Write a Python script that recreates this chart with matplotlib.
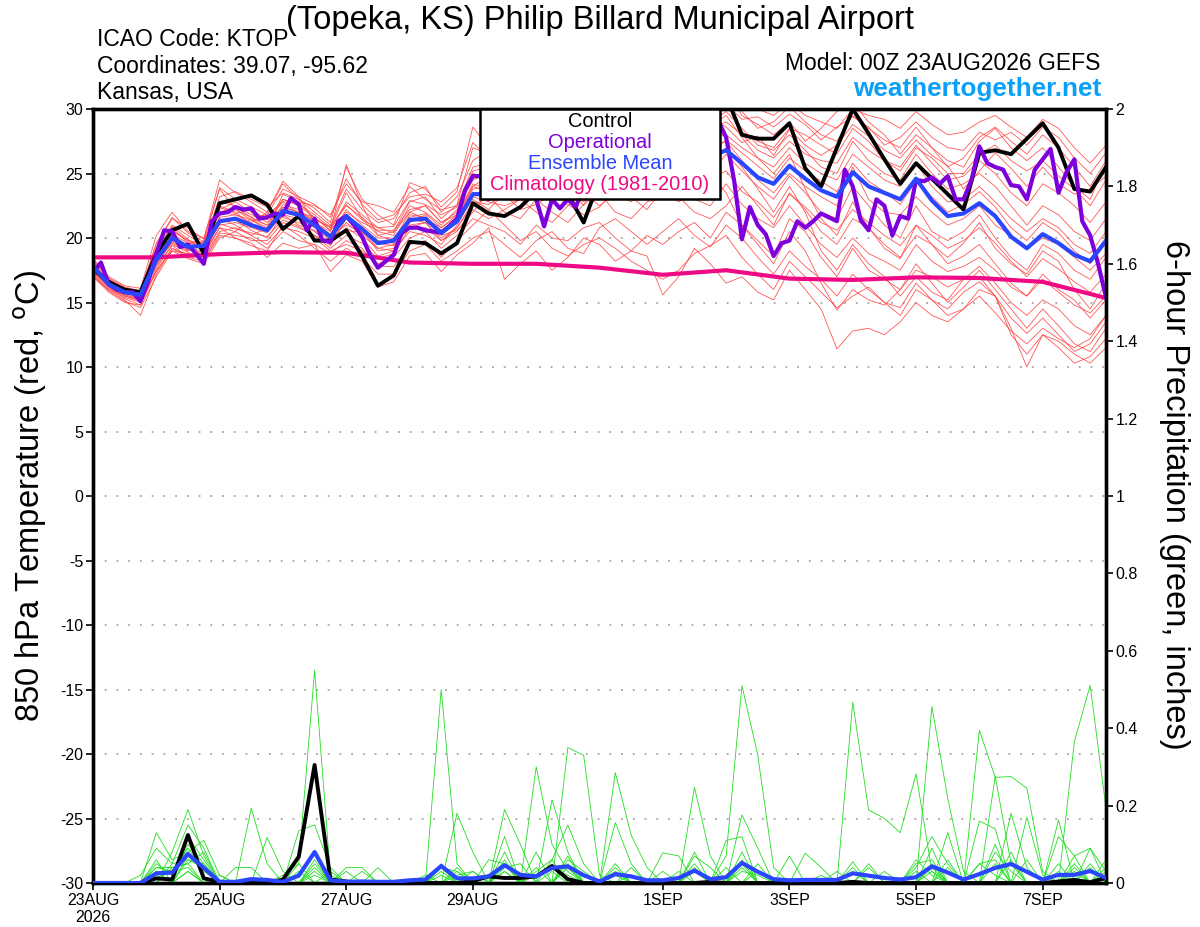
import numpy as np
import matplotlib
matplotlib.use("Agg")
import matplotlib.pyplot as plt
from matplotlib.patches import Rectangle
from matplotlib.ticker import FuncFormatter
from datetime import datetime, timedelta

plt.rcParams['font.family'] = ['Liberation Sans', 'DejaVu Sans']
plt.rcParams['axes.unicode_minus'] = False

# forecast hours from 00Z 23AUG2026
ens_hours = np.arange(0, 385, 6)
oper_hours = np.arange(0, 385, 3)
clim_hours = np.arange(0, 385, 24)
run_start = datetime(2026, 8, 23, 0)
tick_dates = [datetime(2026, 8, 23), datetime(2026, 8, 25), datetime(2026, 8, 27),
              datetime(2026, 8, 29), datetime(2026, 9, 1), datetime(2026, 9, 3),
              datetime(2026, 9, 5), datetime(2026, 9, 7)]

# 850 hPa temperature (C)
control_t = [17.6, 16.6, 16.0, 15.8, 18.8, 20.6, 21.1, 18.8, 22.7, 23.0, 23.3, 22.6,
             20.7, 21.7, 19.8, 19.8, 20.6, 18.6, 16.3, 17.1, 19.7, 19.6, 18.8, 19.6,
             22.7, 21.9, 21.7, 22.4, 23.6, 24.2, 23.4, 21.2, 24.5, 25.5, 26.0, 25.6,
             26.5, 27.2, 28.0, 29.2, 31.0, 28.0, 27.7, 27.7, 28.9, 25.4, 24.0, 27.0,
             30.0, 28.1, 26.1, 24.2, 25.8, 24.6, 23.4, 22.2, 26.6, 26.8, 26.5, 27.7,
             28.9, 27.0, 23.8, 23.6, 25.5]

mean_t = [17.8, 16.4, 15.8, 15.6, 18.3, 20.0, 19.3, 19.4, 21.3, 21.5, 21.0, 20.6,
          22.1, 21.8, 21.0, 20.1, 21.7, 20.7, 19.6, 19.8, 21.4, 21.5, 20.4, 21.3,
          23.4, 23.4, 23.8, 24.0, 24.3, 24.6, 24.4, 24.2, 24.8, 25.0, 25.2, 25.0,
          25.4, 25.8, 26.0, 26.3, 26.8, 25.8, 24.7, 24.2, 25.6, 24.6, 23.7, 23.2,
          25.1, 24.0, 23.5, 23.0, 24.6, 22.9, 21.7, 21.9, 22.7, 21.7, 20.1, 19.2,
          20.3, 19.6, 18.7, 18.2, 19.8]

oper_t = [17.3, 18.1, 16.4, 16.0, 15.8, 15.8, 15.1, 16.7,
          18.8, 20.6, 20.5, 19.3, 19.5, 18.8, 18.0, 21.3,
          21.9, 22.0, 22.4, 22.2, 22.3, 21.5, 21.6, 21.9,
          21.8, 23.1, 22.6, 20.6, 21.5, 19.8, 19.7, 21.3,
          21.7, 21.0, 20.1, 18.7, 17.7, 18.2, 18.7, 20.4,
          20.8, 20.8, 20.6, 20.5, 20.4, 20.9, 21.5, 23.7,
          24.8, 24.8, 23.0, 24.0, 24.8, 24.5, 24.2, 23.8,
          23.0, 20.9, 23.0, 22.3, 23.0, 22.4, 24.0, 25.0,
          25.5, 25.2, 25.8, 26.0, 25.5, 26.2, 26.0, 26.5,
          26.8, 26.3, 27.0, 27.5, 28.0, 28.6, 29.2, 29.1,
          27.8, 24.5, 19.9, 22.4, 21.0, 20.3, 18.6, 19.6,
          19.8, 21.3, 20.8, 21.3, 21.9, 21.6, 21.3, 25.3,
          24.0, 21.4, 20.6, 23.0, 22.5, 20.2, 21.7, 21.5,
          24.5, 24.4, 24.7, 24.2, 24.8, 23.0, 23.0, 24.5,
          27.1, 25.8, 25.5, 25.3, 24.1, 24.0, 23.0, 25.3,
          26.1, 26.9, 23.5, 25.1, 26.1, 21.3, 20.2, 18.0,
          15.4]

clim_t = [18.5, 18.5, 18.75, 18.9, 18.85, 18.1, 18.0, 18.0, 17.7, 17.15, 17.5,
          16.85, 16.75, 16.95, 16.9, 16.6, 15.35]

members_t = [
    [18.3, 16.9, 16.2, 15.9, 19.5, 21.5, 20.8, 19.9, 24.5, 23.5, 22.8, 22.0, 24.2, 23.0, 22.3, 21.2,
     25.5, 23.0, 21.8, 21.0, 24.3, 23.8, 22.4, 23.6, 28.6, 27.0, 26.5, 27.5, 28.2, 27.0, 26.4, 27.8,
     28.5, 29.3, 28.0, 27.6, 28.8, 29.5, 30.5, 31.0, 31.5, 29.5, 28.8, 28.0, 29.0, 27.5, 28.5, 29.8,
     30.5, 29.0, 28.0, 26.5, 28.0, 27.0, 26.0, 25.5, 27.5, 28.5, 27.0, 26.0, 27.0, 25.5, 24.0, 23.0, 25.8],
    [17.2, 16.0, 15.2, 14.0, 17.2, 19.2, 18.5, 18.2, 20.2, 20.0, 19.6, 18.5, 19.6, 19.2, 19.5, 17.4,
     18.7, 18.2, 16.2, 16.6, 18.6, 18.8, 17.4, 18.7, 19.6, 20.8, 16.8, 18.0, 19.0, 17.5, 18.5, 20.0,
     19.5, 18.2, 19.0, 18.6, 15.6, 17.0, 19.2, 18.0, 16.5, 17.0, 15.8, 15.2, 17.5, 16.0, 14.5, 11.4,
     12.8, 13.0, 12.5, 13.5, 15.0, 14.0, 13.5, 14.5, 16.0, 15.5, 13.0, 10.0, 12.5, 11.5, 10.3, 10.8, 12.2],
    [18.0, 16.6, 15.9, 15.7, 18.8, 20.6, 19.8, 19.6, 22.8, 22.5, 21.8, 21.5, 23.0, 22.6, 21.8, 20.8,
     22.5, 21.6, 20.5, 20.2, 22.5, 22.0, 21.0, 22.2, 24.5, 25.0, 25.8, 26.2, 26.6, 27.0, 26.8, 27.2,
     27.6, 28.2, 28.0, 27.5, 28.0, 28.6, 29.2, 29.0, 29.8, 28.5, 27.2, 26.8, 28.0, 26.8, 25.5, 25.0,
     27.5, 26.0, 25.0, 24.5, 26.5, 25.0, 23.8, 24.2, 25.0, 24.0, 22.5, 21.0, 22.5, 21.8, 20.5, 19.8, 21.5],
    [17.5, 16.2, 15.6, 15.3, 18.0, 19.8, 19.5, 19.2, 21.0, 21.2, 20.8, 20.4, 21.8, 21.5, 20.8, 19.8,
     21.2, 20.2, 19.2, 19.5, 21.0, 21.2, 20.0, 20.8, 22.5, 23.2, 22.0, 21.5, 23.0, 22.0, 21.2, 22.6,
     23.5, 22.0, 21.5, 22.8, 23.2, 24.0, 23.0, 22.5, 24.2, 22.6, 21.5, 20.8, 22.5, 21.0, 19.5, 18.5,
     20.0, 18.8, 18.2, 17.5, 19.5, 18.2, 17.4, 17.8, 18.5, 17.5, 16.2, 15.5, 16.8, 15.8, 14.8, 14.2, 15.5],
    [17.9, 16.8, 16.0, 15.5, 18.6, 20.2, 19.0, 19.8, 22.0, 21.8, 21.2, 22.0, 24.4, 23.2, 21.2, 20.5,
     25.7, 22.5, 20.2, 20.5, 22.8, 23.2, 21.5, 22.6, 27.0, 26.5, 24.8, 23.5, 25.5, 26.2, 25.5, 24.8,
     26.8, 27.5, 26.0, 25.2, 26.2, 27.0, 27.8, 28.6, 29.5, 27.8, 26.2, 25.0, 26.5, 23.8, 21.5, 20.2,
     22.8, 20.8, 19.2, 18.4, 21.0, 19.5, 18.5, 19.6, 21.2, 19.2, 18.0, 17.2, 19.0, 18.2, 16.0, 14.5, 16.5],
    [17.0, 16.0, 15.4, 15.0, 17.5, 19.0, 18.8, 18.5, 20.5, 20.8, 20.2, 19.5, 20.8, 20.5, 20.0, 19.0,
     19.5, 19.0, 18.0, 18.5, 20.0, 20.5, 19.2, 20.2, 21.5, 21.0, 20.5, 19.5, 21.0, 20.0, 19.8, 20.8,
     21.2, 20.0, 19.0, 20.2, 19.5, 20.5, 21.2, 20.0, 22.0, 21.0, 19.8, 18.6, 21.5, 20.5, 18.5, 17.0,
     19.2, 17.5, 16.8, 16.0, 17.5, 17.0, 16.2, 16.8, 17.8, 16.5, 15.0, 14.0, 15.2, 14.5, 13.2, 12.5, 14.0],
    [18.1, 16.5, 15.8, 15.6, 19.0, 20.4, 19.2, 19.0, 22.2, 22.8, 22.0, 21.2, 22.4, 22.0, 21.6, 20.6,
     22.8, 21.8, 20.8, 20.4, 22.0, 22.5, 21.2, 22.0, 25.0, 24.6, 25.2, 26.0, 27.2, 27.8, 27.0, 26.5,
     27.0, 27.8, 28.5, 29.0, 28.5, 29.0, 29.8, 30.5, 30.8, 29.8, 28.5, 29.0, 30.2, 29.0, 28.0, 27.5,
     29.5, 28.5, 27.6, 27.0, 28.6, 27.0, 25.5, 26.2, 27.8, 28.6, 27.5, 26.5, 28.0, 27.0, 25.5, 24.0, 26.0],
    [17.6, 16.3, 15.7, 15.4, 18.2, 19.6, 19.0, 19.6, 21.5, 21.0, 20.2, 20.8, 22.6, 22.2, 21.2, 20.2,
     21.0, 20.5, 19.0, 19.2, 21.8, 21.6, 20.6, 21.2, 23.0, 22.2, 23.5, 24.2, 24.8, 25.5, 24.0, 22.5,
     25.0, 25.8, 26.2, 25.0, 26.5, 25.5, 24.2, 25.0, 26.5, 25.2, 24.0, 23.0, 24.8, 23.5, 22.0, 21.5,
     24.0, 22.5, 21.0, 20.0, 22.5, 20.5, 19.8, 20.5, 21.8, 20.0, 18.5, 17.5, 19.5, 18.8, 17.5, 16.8, 18.5],
    [17.4, 16.1, 15.5, 15.2, 17.8, 19.4, 18.6, 18.8, 20.8, 20.5, 21.5, 21.0, 21.6, 21.2, 20.5, 19.5,
     20.8, 20.0, 18.6, 19.0, 21.2, 21.8, 20.2, 20.6, 22.0, 23.5, 24.5, 25.5, 26.0, 26.8, 27.5, 26.8,
     27.8, 26.5, 25.5, 26.0, 27.2, 28.0, 26.5, 25.0, 23.5, 21.0, 19.5, 18.0, 20.5, 19.0, 16.5, 14.4,
     16.0, 15.2, 14.8, 16.0, 18.0, 16.5, 15.0, 16.2, 17.5, 16.0, 14.5, 13.0, 14.5, 13.2, 11.8, 11.2, 13.0],
    [17.7, 16.5, 15.9, 15.6, 18.4, 20.2, 19.4, 19.3, 21.6, 21.8, 21.4, 20.8, 22.2, 21.6, 21.2, 20.3,
     22.2, 21.0, 20.0, 20.0, 21.5, 21.2, 20.6, 21.5, 23.8, 24.0, 24.4, 24.8, 25.2, 25.8, 25.0, 24.6,
     25.5, 26.0, 26.5, 26.0, 26.8, 27.2, 27.5, 27.8, 28.0, 27.0, 26.2, 25.5, 27.0, 25.8, 25.0, 24.5,
     26.5, 25.5, 24.5, 24.0, 25.8, 24.0, 22.8, 23.0, 24.0, 22.8, 21.5, 20.5, 21.5, 20.8, 19.5, 18.8, 20.5],
    [18.0, 16.7, 16.1, 15.8, 19.2, 21.0, 20.2, 19.5, 23.2, 23.6, 23.0, 22.4, 23.5, 23.0, 22.0, 21.0,
     23.8, 22.2, 21.2, 21.5, 23.5, 24.0, 22.0, 23.2, 26.0, 26.8, 27.5, 28.0, 28.5, 29.0, 28.2, 28.6,
     29.2, 30.0, 29.5, 29.0, 29.5, 30.2, 30.0, 30.6, 31.0, 30.5, 30.0, 29.5, 30.5, 29.5, 29.0, 28.5,
     30.0, 29.5, 29.2, 28.5, 29.8, 28.8, 28.0, 28.2, 29.0, 29.5, 28.6, 27.8, 29.2, 28.5, 27.0, 25.8, 27.2],
    [17.3, 16.2, 15.3, 14.8, 17.6, 19.5, 18.9, 18.3, 20.4, 20.2, 20.0, 19.2, 20.5, 19.8, 19.5, 18.8,
     19.8, 19.2, 17.8, 17.8, 19.5, 19.8, 18.5, 19.8, 21.0, 22.2, 21.0, 19.8, 20.5, 19.2, 18.6, 19.5,
     20.0, 19.2, 18.2, 17.5, 16.8, 17.5, 18.8, 19.4, 20.2, 18.5, 17.2, 16.0, 18.2, 17.0, 15.8, 14.6,
     15.5, 16.2, 15.0, 14.0, 16.0, 15.2, 14.5, 15.8, 16.6, 15.5, 13.8, 12.6, 13.8, 12.5, 11.2, 11.8, 13.5],
    [17.9, 16.4, 15.7, 15.8, 18.5, 20.8, 19.6, 19.4, 22.5, 22.0, 21.0, 20.6, 23.4, 22.8, 21.5, 20.8,
     23.5, 21.5, 20.2, 19.8, 22.0, 21.5, 20.8, 21.8, 24.0, 24.8, 23.8, 23.2, 24.5, 25.0, 25.8, 26.5,
     26.0, 25.2, 26.8, 27.5, 26.5, 27.5, 28.5, 27.0, 27.5, 26.0, 24.5, 23.5, 25.0, 24.0, 23.2, 22.5,
     25.5, 23.0, 22.0, 21.8, 23.2, 22.0, 21.0, 21.5, 22.5, 21.0, 20.2, 19.2, 20.0, 19.5, 18.5, 17.5, 18.8],
    [17.1, 15.9, 15.1, 14.6, 17.0, 19.0, 18.4, 18.0, 20.0, 20.5, 19.8, 19.8, 21.2, 20.8, 20.2, 19.2,
     20.2, 19.6, 18.4, 18.8, 20.8, 20.8, 19.8, 20.5, 22.2, 21.5, 22.2, 23.0, 22.0, 21.2, 22.5, 23.5,
     22.5, 23.5, 24.5, 23.0, 24.0, 23.2, 22.0, 21.5, 22.5, 24.0, 22.5, 21.0, 23.5, 22.2, 20.5, 19.5,
     21.5, 20.8, 19.5, 18.5, 20.2, 19.5, 18.0, 18.6, 19.5, 18.0, 16.5, 15.5, 17.2, 16.0, 15.2, 13.8, 15.2],
    [18.4, 17.0, 16.3, 16.1, 20.2, 22.0, 20.5, 20.0, 23.8, 22.2, 21.6, 21.8, 22.8, 22.8, 22.5, 21.8,
     24.2, 22.8, 22.5, 22.0, 24.0, 23.0, 22.2, 22.5, 25.5, 25.8, 26.0, 25.5, 26.2, 26.5, 27.2, 27.0,
     28.0, 27.2, 27.0, 28.2, 29.0, 28.5, 28.0, 29.5, 30.5, 28.2, 27.5, 27.0, 28.5, 28.0, 27.2, 26.5,
     28.5, 27.5, 26.0, 25.2, 27.0, 26.2, 25.0, 25.0, 26.5, 27.2, 26.0, 25.2, 26.0, 24.8, 23.8, 22.5, 24.5],
    [17.5, 16.3, 15.5, 15.1, 18.0, 19.8, 19.2, 18.7, 21.2, 21.4, 20.6, 20.0, 21.8, 21.0, 20.6, 19.4,
     21.5, 20.6, 19.2, 19.0, 20.5, 20.2, 19.5, 21.0, 23.2, 22.8, 22.5, 23.0, 23.8, 24.2, 23.5, 22.8,
     24.2, 23.5, 22.8, 24.0, 25.0, 24.5, 25.5, 26.0, 27.0, 25.5, 23.8, 22.0, 24.0, 22.0, 19.0, 17.5,
     19.5, 18.0, 17.0, 15.5, 17.0, 15.8, 15.2, 16.8, 17.0, 15.5, 12.5, 11.0, 12.5, 12.0, 11.0, 10.3, 11.5],
    [17.8, 16.6, 15.9, 15.5, 18.9, 20.5, 19.8, 19.0, 22.0, 22.4, 21.6, 21.0, 23.0, 22.5, 21.6, 20.6,
     22.0, 21.2, 20.6, 20.6, 22.2, 22.5, 21.2, 21.8, 24.2, 23.8, 24.5, 25.2, 25.8, 26.2, 26.0, 25.5,
     26.5, 27.2, 27.0, 26.5, 27.5, 28.2, 28.0, 28.5, 29.0, 28.0, 26.8, 26.2, 27.5, 26.5, 26.0, 25.8,
     27.8, 26.8, 26.0, 25.5, 27.2, 25.8, 24.5, 24.8, 26.0, 25.0, 23.5, 22.5, 24.2, 23.5, 22.5, 21.2, 22.8],
    [17.0, 15.8, 15.0, 14.8, 17.4, 19.2, 18.7, 18.6, 20.8, 20.0, 19.4, 19.0, 21.0, 20.2, 19.2, 18.2,
     19.2, 18.5, 17.2, 17.2, 19.0, 19.5, 18.2, 19.0, 20.0, 20.5, 19.5, 18.5, 19.8, 20.5, 19.2, 18.8,
     20.8, 21.5, 20.5, 19.5, 20.5, 21.5, 20.2, 19.3, 21.0, 20.0, 18.5, 17.2, 19.0, 17.8, 16.8, 15.5,
     17.2, 16.0, 15.0, 14.6, 16.5, 15.2, 14.0, 14.5, 15.5, 14.2, 12.8, 11.8, 13.0, 12.2, 11.5, 12.2, 14.0],
    [17.6, 16.5, 15.8, 15.4, 18.6, 20.9, 19.9, 19.1, 22.4, 21.9, 22.2, 21.4, 22.8, 21.9, 21.4, 20.9,
     22.6, 21.4, 20.8, 20.9, 22.9, 22.6, 21.8, 22.4, 25.2, 25.5, 24.6, 24.9, 26.0, 25.2, 26.6, 27.2,
     26.2, 27.6, 27.2, 28.0, 27.8, 27.0, 28.8, 29.4, 28.6, 27.4, 27.9, 26.4, 28.4, 27.2, 26.4, 27.2,
     28.8, 27.9, 26.8, 26.2, 27.6, 26.4, 25.6, 23.8, 25.2, 26.6, 25.4, 24.0, 25.5, 24.2, 23.4, 23.8, 24.8],
    [17.4, 16.3, 15.6, 15.2, 17.9, 19.7, 19.1, 18.9, 21.1, 20.7, 20.4, 20.1, 21.4, 20.9, 20.2, 19.6,
     20.6, 20.4, 19.6, 19.4, 20.8, 21.2, 19.8, 20.8, 22.8, 22.6, 23.4, 22.2, 22.6, 23.4, 22.6, 21.8,
     22.4, 23.8, 23.2, 22.2, 23.8, 22.8, 23.6, 24.6, 25.2, 23.6, 22.8, 21.6, 23.4, 22.4, 21.2, 20.6,
     22.2, 21.2, 20.2, 19.4, 21.0, 20.2, 19.2, 19.8, 20.8, 19.6, 18.2, 17.0, 18.4, 17.6, 16.6, 15.8, 17.2],
    [18.2, 16.8, 16.1, 15.9, 19.6, 21.6, 20.4, 19.7, 23.9, 23.0, 22.4, 21.8, 23.8, 23.2, 22.6, 21.6,
     24.6, 22.6, 21.4, 21.8, 23.2, 23.4, 22.8, 23.9, 27.4, 26.2, 26.9, 27.2, 27.8, 28.3, 27.6, 28.4,
     28.9, 28.6, 29.2, 28.4, 29.2, 29.8, 29.4, 30.2, 30.4, 29.2, 29.4, 28.6, 29.6, 28.8, 27.6, 28.6,
     29.4, 28.6, 27.2, 27.8, 29.0, 27.8, 27.0, 26.8, 28.2, 27.6, 28.2, 27.2, 28.6, 27.8, 26.2, 25.0, 26.6],
    [17.7, 16.4, 15.8, 15.5, 18.3, 20.3, 19.6, 19.7, 21.9, 22.2, 21.4, 20.6, 22.4, 22.0, 21.4, 20.0,
     21.6, 20.8, 19.8, 19.6, 21.6, 21.9, 20.8, 21.6, 24.0, 23.6, 24.2, 23.8, 24.6, 24.8, 25.6, 25.2,
     26.2, 25.6, 25.0, 26.4, 26.0, 26.8, 27.2, 26.6, 27.6, 26.6, 25.6, 24.6, 26.2, 25.2, 24.4, 23.6,
     25.8, 24.4, 23.6, 22.6, 24.4, 23.2, 22.0, 22.6, 23.6, 22.4, 20.8, 19.8, 21.2, 20.4, 19.0, 18.0, 19.6],
]

# 6-hour precipitation (inches)
control_p = [0, 0, 0, 0, .012, .009, .124, .012, .003, 0, 0, 0,
             .009, .068, .305, .009, .004, 0, 0, 0, 0, 0, 0, 0,
             .005, .017, .013, .013, .017, .044, .01, 0, 0, 0, 0, 0,
             0, 0, 0, .003, 0, 0, 0, 0, 0, 0, 0, 0,
             .003, 0, 0, 0, 0, 0, 0, 0, 0, 0, 0, 0,
             0, .004, .008, .002, .013]

mean_p = [0, 0, 0, 0, .025, .027, .075, .039, .003, .003, .01, .008,
          .003, .019, .080, .007, .003, .004, .003, .003, .007, .009, .044, .012,
          .012, .017, .046, .021, .017, .039, .043, .02, .004, .023, .017, .007,
          .007, .013, .032, .01, .015, .052, .029, .01, .007, .008, .008, .008,
          .025, .019, .013, .009, .015, .043, .027, .009, .023, .039, .049, .029,
          .009, .021, .021, .031, .013]

members_p = [
    [0, 0, 0, 0, .03, 0, .10, .05, 0, 0, 0, 0, 0, .05, .55, .02, 0, 0, 0, 0, 0, 0, 0, 0,
     0, 0, .03, 0, 0, 0, .05, 0, 0, .02, 0, 0, 0, 0, 0, 0, .07, .51, .33, .04, 0, 0, 0, 0,
     0, 0, 0, 0, 0, .03, 0, 0, .05, .02, 0, 0, 0, 0, 0, .09, .03],
    [0, 0, 0, 0, .13, .06, .08, .11, .02, 0, 0, 0, 0, 0, 0, 0, 0, 0, 0, 0, 0, 0, .50, .05,
     0, 0, 0, 0, 0, .06, 0, 0, 0, .285, .124, .04, 0, 0, 0, 0, 0, 0, 0, 0, 0, 0, 0, 0,
     .055, 0, 0, 0, .06, .02, 0, 0, 0, 0, 0, 0, 0, .12, .07, 0, 0],
    [0, 0, 0, 0, 0, .08, .19, .07, 0, 0, .193, .05, 0, 0, 0, .03, 0, 0, 0, 0, 0, 0, 0, 0,
     0, 0, 0, 0, .30, .10, .03, 0, 0, 0, 0, 0, 0, 0, .247, .07, 0, 0, 0, 0, 0, .077, .04, 0,
     0, 0, 0, 0, 0, 0, 0, 0, .16, .14, 0, 0, 0, 0, .365, .511, .193],
    [0, 0, 0, .02, .09, .05, .15, .09, 0, 0, 0, .118, .03, 0, 0, 0, .04, .04, 0, 0, 0, 0, 0, 0,
     0, 0, 0, 0, 0, 0, .35, .33, .02, 0, 0, 0, 0, 0, 0, 0, 0, 0, 0, 0, 0, 0, 0, 0,
     .467, .189, .167, .13, .282, .03, 0, 0, 0, 0, .18, .04, 0, 0, 0, 0, 0],
    [0, 0, 0, 0, .06, 0, .06, .04, 0, 0, 0, 0, 0, .135, .15, .04, 0, 0, 0, 0, 0, 0, 0, .18,
     .08, 0, .19, .10, 0, 0, 0, 0, 0, 0, 0, 0, .078, .07, 0, 0, 0, 0, 0, 0, 0, 0, 0, 0,
     0, 0, 0, 0, 0, .456, .219, .03, 0, 0, 0, 0, 0, 0, .07, .09, 0],
    [0, 0, 0, 0, .04, .04, .05, 0, 0, .04, .04, 0, 0, 0, .06, 0, 0, 0, 0, 0, 0, 0, .05, 0,
     0, 0, .12, 0, 0, .215, .08, 0, 0, 0, 0, 0, 0, 0, .08, 0, 0, .176, .09, 0, 0, 0, 0, 0,
     0, 0, 0, 0, 0, 0, 0, 0, .395, .273, .275, .245, .03, 0, 0, 0, 0],
    [0, 0, 0, 0, .03, .03, .04, 0, 0, 0, 0, 0, 0, 0, .04, 0, 0, 0, .04, 0, 0, 0, .04, 0,
     .03, 0, .08, 0, .08, 0, 0, 0, 0, .156, .05, 0, 0, 0, 0, 0, .11, .12, 0, 0, .07, 0, 0, 0,
     0, .04, 0, 0, 0, 0, .13, 0, 0, .276, .05, 0, 0, .163, 0, 0, .04],
    [0, 0, 0, 0, 0, .05, .06, .05, 0, 0, 0, 0, .02, .05, 0, 0, 0, 0, 0, 0, 0, 0, 0, .04,
     0, .06, .05, 0, .03, .06, .15, .05, 0, 0, 0, 0, .03, 0, .07, .04, 0, .06, 0, 0, 0, 0, 0, .03,
     0, 0, 0, 0, .04, .12, .05, 0, 0, 0, 0, .17, .02, 0, 0, 0, 0],
    [0, 0, 0, 0, 0, 0, .03, 0, .02, 0, 0, 0, 0, 0, .02, 0, .03, 0, 0, 0, .01, 0, .02, 0,
     0, 0, .04, .05, 0, 0, .04, 0, 0, .05, 0, 0, 0, .03, 0, 0, 0, .03, .02, 0, 0, 0, 0, 0,
     0, 0, .03, 0, 0, .09, 0, 0, .05, .06, 0, 0, 0, 0, .03, 0, 0],
    [0, 0, 0, 0, .02, 0, .03, 0, 0, 0, 0, 0, 0, 0, 0, 0, 0, .03, 0, 0, 0, .02, 0, .03,
     0, 0, .03, 0, .02, .04, .02, 0, 0, 0, .04, 0, 0, 0, .03, 0, 0, .05, 0, 0, 0, 0, .02, 0,
     .03, 0, 0, 0, 0, .04, 0, 0, 0, .08, .03, 0, 0, 0, 0, .04, 0],
    [0, 0, 0, 0, .05, .02, .12, .06, 0, 0, 0, 0, 0, 0, 0, 0, 0, 0, 0, 0, 0, 0, .04, .03,
     0, 0, 0, 0, 0, 0, .06, .03, 0, 0, 0, 0, 0, 0, .05, 0, 0, .04, 0, 0, 0, 0, 0, 0,
     0, 0, 0, 0, .05, .06, 0, 0, 0, 0, .08, 0, 0, .05, 0, 0, .06],
    [0, 0, 0, 0, 0, 0, .07, .03, 0, 0, 0, 0, 0, 0, .03, 0, 0, 0, 0, 0, 0, 0, 0, 0,
     0, 0, .06, 0, 0, .03, 0, 0, 0, .03, 0, 0, 0, 0, 0, 0, 0, 0, .05, 0, 0, 0, 0, 0,
     .04, 0, 0, 0, 0, 0, .04, 0, 0, .10, 0, .06, 0, 0, .04, 0, 0],
    [0, 0, 0, 0, .04, .03, .09, .04, 0, 0, 0, 0, 0, .03, 0, 0, 0, 0, 0, 0, 0, 0, .03, 0,
     0, 0, .05, 0, 0, 0, .04, 0, 0, .04, 0, 0, 0, 0, .04, 0, 0, .08, 0, 0, 0, 0, 0, 0,
     0, .05, 0, 0, 0, .05, 0, 0, 0, .05, 0, 0, 0, .03, 0, .05, 0],
    [0, 0, 0, 0, 0, .04, .05, .08, 0, 0, 0, 0, 0, 0, .05, 0, 0, 0, 0, 0, 0, 0, 0, .02,
     .03, 0, 0, 0, .04, 0, .07, 0, 0, 0, .02, 0, 0, 0, 0, 0, .04, 0, .03, 0, 0, 0, 0, 0,
     0, 0, 0, 0, .03, 0, .06, 0, 0, 0, .06, 0, 0, 0, .05, 0, .03],
]

for series in members_t + members_p + [control_t, mean_t, control_p, mean_p]:
    assert len(series) == len(ens_hours), len(series)
assert len(oper_t) == len(oper_hours)
assert len(clim_t) == len(clim_hours)

RED = '#ff4545'
GREEN = '#22dd22'
BLUE = '#2a46ff'
PURPLE = '#7d00dc'
MAGENTA = '#ee0a84'

fig = plt.figure(figsize=(12, 9.27), dpi=100)
ax = fig.add_axes([0.0775, 0.04746, 0.84417, 0.83495])
ax2 = ax.twinx()

# temperature (left axis)
for m in members_t:
    ax.plot(ens_hours, m, color=RED, lw=0.6, alpha=0.9, zorder=2)
ax.plot(clim_hours, clim_t, color=MAGENTA, lw=3, zorder=3)
ax.plot(ens_hours, control_t, color='black', lw=2.8, zorder=4)
ax.plot(oper_hours, oper_t, color=PURPLE, lw=3, zorder=5)
ax.plot(ens_hours, mean_t, color=BLUE, lw=3, zorder=6)

# precipitation (right axis)
for m in members_p:
    ax2.plot(ens_hours, m, color=GREEN, lw=0.6, zorder=2)
ax2.plot(ens_hours, control_p, color='black', lw=2.8, zorder=4)
ax2.plot(ens_hours, mean_p, color=BLUE, lw=3, zorder=5)

ax.set_xlim(0, 384)
ax.set_ylim(-30, 30)
ax2.set_ylim(0, 2)

ax.set_yticks(range(-30, 31, 5))
ax2.set_yticks(np.arange(0, 2.01, 0.2))
ax2.yaxis.set_major_formatter(FuncFormatter(lambda v, p: f"{v:g}"))

tick_pos = [(d - run_start) / timedelta(hours=1) for d in tick_dates]
tick_lab = [f"{d.day}{d.strftime('%b').upper()}" for d in tick_dates]
tick_lab[0] += f"\n{tick_dates[0].year}"
ax.set_xticks(tick_pos)
ax.set_xticklabels(tick_lab)

for a in (ax, ax2):
    a.tick_params(direction='out', length=5, width=1.2, labelsize=11.5, pad=2)
    for s in a.spines.values():
        s.set_linewidth(2.4)

ax.yaxis.grid(True, linestyle=(0, (1.0, 5.5)), color='#a5a5a5', lw=1.3)
ax.set_axisbelow(True)

# legend box
ax2.add_patch(Rectangle((0.382, 0.884), 0.237, 0.116, transform=ax2.transAxes,
                        facecolor='white', edgecolor='black', lw=1.8, zorder=20))
leg_items = [('Control', 'black'), ('Operational', PURPLE),
             ('Ensemble Mean', BLUE), ('Climatology (1981-2010)', MAGENTA)]
for i, (txt, col) in enumerate(leg_items):
    ax2.text(0.5005, 0.9845 - i * 0.0275, txt, color=col, fontsize=14.4,
             ha='center', va='center', transform=ax2.transAxes, zorder=21)

# labels and header texts
fig.text(0.025, 0.465, '850 hPa Temperature (red, $^{\\mathrm{o}}$C)', rotation=90,
         ha='center', va='center', fontsize=23.5)
fig.text(0.979, 0.466, '6-hour Precipitation (green, inches)', rotation=270,
         ha='center', va='center', fontsize=23.5)
fig.text(0.5, 1 - 20 / 927, '(Topeka, KS) Philip Billard Municipal Airport',
         ha='center', va='center', fontsize=23.5)
fig.text(97 / 1200, 1 - 40 / 927, 'ICAO Code: KTOP', va='center', fontsize=16.5)
fig.text(97 / 1200, 1 - 66 / 927, 'Coordinates: 39.07, -95.62', va='center', fontsize=16.5)
fig.text(97 / 1200, 1 - 92 / 927, 'Kansas, USA', va='center', fontsize=16.5)
fig.text(1100 / 1200, 1 - 64 / 927, 'Model: 00Z 23AUG2026 GEFS', ha='right', va='center', fontsize=16.5)
fig.text(1101 / 1200, 1 - 89 / 927, 'weathertogether.net', ha='right', va='center',
         fontsize=18.8, fontweight='bold', color='#0aa0f8')

fig.savefig('out.png', dpi=100)
